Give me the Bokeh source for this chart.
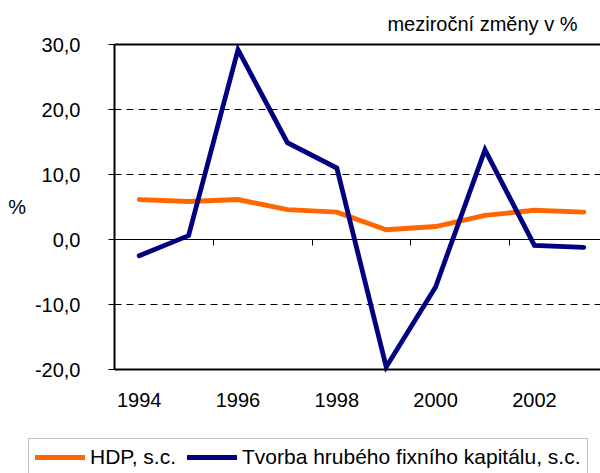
from bokeh.plotting import figure
from bokeh.models import (Range1d, FixedTicker, LinearAxis, Legend,
                          LegendItem, Label)
from bokeh.embed import file_html
from bokeh.resources import INLINE

# ---- data ----
years = [1994, 1995, 1996, 1997, 1998, 1999, 2000, 2001, 2002, 2003]
hdp = [6.15, 5.85, 6.15, 4.6, 4.2, 1.5, 2.0, 3.7, 4.5, 4.2]
thfk = [-2.5, 0.6, 29.2, 14.9, 11.0, -19.6, -7.3, 13.8, -0.9, -1.2]
series_names = ["HDP, s.c.", "Tvorba hrubého fixního kapitálu, s.c."]
series_colors = ["#FF6600", "#000080"]
y_ticks = [-20, -10, 0, 10, 20, 30]
y_tick_labels = ["-20,0", "-10,0", "0,0", "10,0", "20,0", "30,0"]
grid_ticks = [-10, 10, 20]
x_label_years = [1994, 1996, 1998, 2000, 2002]
x_boundary_ticks = [1995.5, 1997.5, 1999.5, 2001.5, 2003.5]
title_text = "meziroční změny v %"
y_label = "%"

# ---- geometry (pixels) ----
W, H = 600, 473
AREA_LEFT, AREA_TOP, AREA_BOTTOM = 114, 44, 369
PX_PER_YEAR = 49.4
Y_MIN, Y_MAX = -20, 30
X_LEFT = 1993.5                      # left boundary of first category
px_per_unit = (AREA_BOTTOM - AREA_TOP) / (Y_MAX - Y_MIN)
x_start = X_LEFT - AREA_LEFT / PX_PER_YEAR
x_end = x_start + W / PX_PER_YEAR
y_end = Y_MAX + AREA_TOP / px_per_unit
y_start = Y_MIN - (H - AREA_BOTTOM) / px_per_unit

FONT = "Liberation Sans"
LW = 4.8

p = figure(width=W, height=H,
           x_range=Range1d(x_start, x_end), y_range=Range1d(y_start, y_end),
           output_backend="svg", toolbar_location=None,
           x_axis_type=None, y_axis_type=None,
           min_border_left=0, min_border_right=0,
           min_border_top=0, min_border_bottom=0)
p.outline_line_color = None
p.background_fill_color = "white"
p.border_fill_color = "white"

# dashed horizontal gridlines across the plot area only
p.segment(x0=[X_LEFT] * len(grid_ticks), x1=[x_end] * len(grid_ticks),
          y0=grid_ticks, y1=grid_ticks,
          line_color="black", line_width=1, line_dash="7 5")

# y axis (left border)
ya = LinearAxis(fixed_location=X_LEFT, bounds=(Y_MIN, Y_MAX),
                ticker=FixedTicker(ticks=y_ticks),
                major_label_overrides=dict(zip(y_ticks, y_tick_labels)),
                axis_line_width=2, axis_line_color="black",
                major_tick_in=0, major_tick_out=6, major_tick_line_color="black",
                minor_tick_line_color=None,
                major_label_standoff=28,
                major_label_text_font=FONT, major_label_text_font_size="20px",
                major_label_text_color="black",
                axis_label=y_label, axis_label_orientation="horizontal",
                axis_label_standoff=6, axis_label_text_font=FONT,
                axis_label_text_font_size="20px",
                axis_label_text_font_style="normal",
                axis_label_text_color="black")
p.add_layout(ya, "left")

# x axis with year labels (bottom border)
xa = LinearAxis(fixed_location=Y_MIN, bounds=(X_LEFT, x_end),
                ticker=FixedTicker(ticks=x_label_years),
                axis_line_width=2, axis_line_color="black",
                major_tick_in=0, major_tick_out=0, minor_tick_line_color=None,
                major_label_standoff=23,
                major_label_text_font=FONT, major_label_text_font_size="20px",
                major_label_text_color="black")
p.add_layout(xa, "below")

# category axis crossing at zero
zero_axis = LinearAxis(fixed_location=0, bounds=(X_LEFT, x_end),
                       ticker=FixedTicker(ticks=x_boundary_ticks),
                       axis_line_width=1, axis_line_color="black",
                       major_tick_in=0, major_tick_out=6,
                       major_tick_line_color="black",
                       minor_tick_line_color=None,
                       major_label_text_color=None)
p.add_layout(zero_axis, "below")

# top border
top_axis = LinearAxis(fixed_location=Y_MAX, bounds=(X_LEFT, x_end),
                      ticker=FixedTicker(ticks=[]),
                      axis_line_width=2, axis_line_color="black",
                      major_tick_line_color=None, minor_tick_line_color=None,
                      major_label_text_color=None)
p.add_layout(top_axis, "above")

# series
r1 = p.line(years, hdp, line_color=series_colors[0], line_width=LW,
            line_join="miter", line_cap="round")
r2 = p.line(years, thfk, line_color=series_colors[1], line_width=LW,
            line_join="miter", line_cap="round")

# title text (top right)
p.add_layout(Label(x=577, y=H - 23, x_units="screen", y_units="screen",
                   text=title_text, text_align="right", text_baseline="alphabetic",
                   text_font=FONT, text_font_size="20px", text_color="black"))

legend = Legend(items=[LegendItem(label=series_names[0], renderers=[r1]),
                       LegendItem(label=series_names[1], renderers=[r2])],
                orientation="horizontal", location=(28, -3),
                padding=6, spacing=11, margin=0,
                glyph_width=50, glyph_height=20, label_standoff=5,
                label_text_font=FONT, label_text_font_size="21px",
                label_text_color="black",
                border_line_color="#808080", border_line_width=1,
                background_fill_color="white", background_fill_alpha=1)
p.add_layout(legend)

open("out.html", "w").write(file_html(p, INLINE))
